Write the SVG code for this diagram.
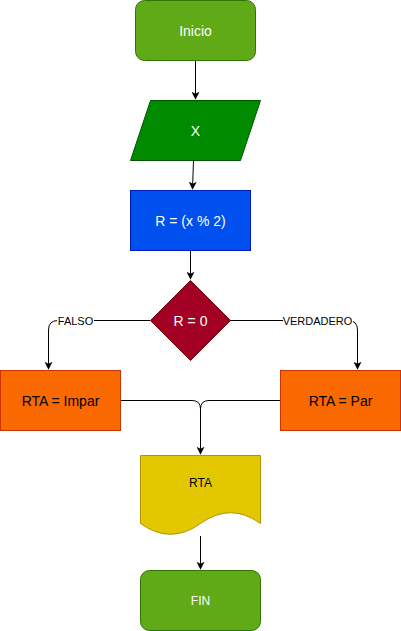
<svg xmlns="http://www.w3.org/2000/svg" width="401" height="631" viewBox="0 0 401 631">
<defs>
<style>
text{font-family:"Liberation Sans",Arial,sans-serif;text-anchor:middle;dominant-baseline:central}
.w{fill:#ffffff;font-size:14px}
.b{fill:#000000;font-size:14px}
.s{font-size:12px}
.lbl{fill:#000000;font-size:11px}
.edge{fill:none;stroke:#000000;stroke-width:1}
</style>
<marker id="arr" viewBox="0 0 10 10" refX="9" refY="5" markerWidth="8" markerHeight="8" orient="auto" markerUnits="userSpaceOnUse">
<path d="M0,0 L10,5 L0,10 L2.5,5 Z" fill="#000000"/>
</marker>
</defs>
<rect width="401" height="631" fill="#ffffff"/>
<g id="connectors">
<path class="edge" d="M195.5,60.5 L195.5,99" marker-end="url(#arr)"/>
<path class="edge" d="M193.5,160.5 L192.5,189" marker-end="url(#arr)"/>
<path class="edge" d="M190.5,250.5 L190.5,279" marker-end="url(#arr)"/>
<path class="edge" d="M150,320.5 L58,320.5 Q48.5,320.5 48.5,330 L48.5,369" marker-end="url(#arr)"/>
<path class="edge" d="M230,320.5 L348,320.5 Q357.5,320.5 357.5,330 L357.5,369" marker-end="url(#arr)"/>
<path class="edge" d="M120.5,400.5 L192,400.5 Q200.5,400.5 200.5,409 L200.5,454" marker-end="url(#arr)"/>
<path class="edge" d="M280.5,400.5 L209,400.5 Q200.5,400.5 200.5,409"/>
<path class="edge" d="M200.5,536 L200.5,569" marker-end="url(#arr)"/>
<rect x="57" y="313" width="37" height="14" fill="#ffffff"/>
<text class="lbl" x="75.5" y="320.5">FALSO</text>
<rect x="283" y="313" width="70" height="14" fill="#ffffff"/>
<text class="lbl" x="317.5" y="320.5">VERDADERO</text>
</g>
<g id="inicio">
<rect x="135.5" y="0.5" width="120" height="60" rx="9" fill="#60a917" stroke="#2d7600"/>
<text class="w" x="195.5" y="30.5">Inicio</text>
</g>
<g id="x">
<polygon points="150.5,100.5 260.5,100.5 240.5,160.5 130.5,160.5" fill="#008a00" stroke="#005700"/>
<text class="w" x="195.5" y="130.5">X</text>
</g>
<g id="r">
<rect x="130.5" y="190.5" width="120" height="60" fill="#0050ef" stroke="#001dbc"/>
<text class="w" x="190.5" y="220.5">R = (x % 2)</text>
</g>
<g id="decision">
<polygon points="190.5,280.5 230.5,320.5 190.5,360.5 150.5,320.5" fill="#a20025" stroke="#6f0000"/>
<text class="w" x="190.5" y="320.5">R = 0</text>
</g>
<g id="impar">
<rect x="0.5" y="370.5" width="120" height="60" fill="#fa6800" stroke="#c73500"/>
<text class="b" x="60.5" y="400.5">RTA = Impar</text>
</g>
<g id="par">
<rect x="280.5" y="370.5" width="120" height="60" fill="#fa6800" stroke="#c73500"/>
<text class="b" x="340.5" y="400.5">RTA = Par</text>
</g>
<g id="rta">
<path d="M140.5,455.5 L260.5,455.5 L260.5,523.5 Q230.5,501.9 200.5,523.5 Q170.5,545.1 140.5,523.5 Z" fill="#e3c800" stroke="#b09500"/>
<text class="b s" x="200.5" y="482.5">RTA</text>
</g>
<g id="fin">
<rect x="140.5" y="570.5" width="120" height="60" rx="9" fill="#60a917" stroke="#2d7600"/>
<text class="w s" x="200.5" y="600.5">FIN</text>
</g>
</svg>
